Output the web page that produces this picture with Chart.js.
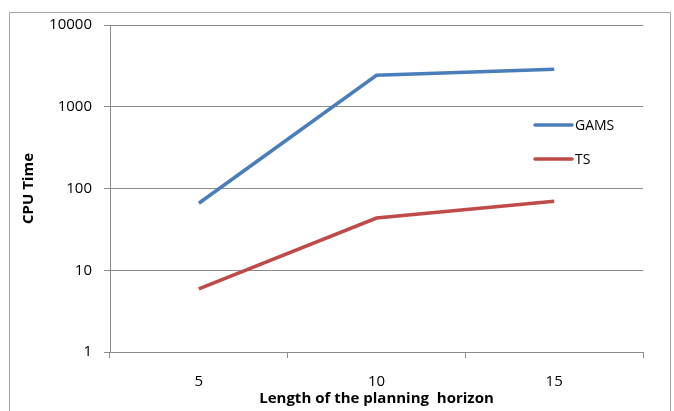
<!DOCTYPE html>
<html>
<head>
<meta charset="utf-8">
<script src="https://cdn.jsdelivr.net/npm/chart.js@4/dist/chart.umd.min.js"></script>
<style>
  html, body { margin: 0; padding: 0; background: #fff; }
  #wrap { position: relative; width: 674px; height: 411px; overflow: hidden; }
  #frame { position: absolute; left: 9px; top: 12px; width: 662px; height: 420px; border: 1px solid #a6a6a6; box-sizing: border-box; pointer-events: none; }
  canvas { position: absolute; left: 0; top: 0; }
</style>
</head>
<body>
<div id="wrap">
  <canvas id="c" width="674" height="411"></canvas>
  <div id="frame"></div>
</div>
<script>
// Planning horizon lengths and CPU times of the two solvers
const horizons = ['5', '10', '15'];
const gamsTimes = [66, 2430, 2880];
const tsTimes = [5.9, 43.5, 70];
const yTickValues = [1, 10, 100, 1000, 10000];

const FONT = "'Open Sans', 'Liberation Sans', sans-serif";
const GRID = '#8c8c8c';

// Legend drawn inside the plot area, to the right
const innerLegend = {
  id: 'innerLegend',
  afterDatasetsDraw(chart) {
    const ctx = chart.ctx;
    const rows = [125, 159];
    ctx.save();
    chart.data.datasets.forEach((ds, i) => {
      const y = rows[i];
      ctx.strokeStyle = ds.borderColor;
      ctx.lineWidth = ds.borderWidth;
      ctx.lineCap = 'round';
      ctx.beginPath();
      ctx.moveTo(535, y);
      ctx.lineTo(572, y);
      ctx.stroke();
      ctx.fillStyle = '#000';
      ctx.font = "14px " + FONT;
      ctx.textBaseline = 'middle';
      ctx.textAlign = 'left';
      ctx.fillText(ds.label, 575, y + 1);
    });
    ctx.restore();
  }
};

new Chart(document.getElementById('c'), {
  type: 'line',
  data: {
    labels: horizons,
    datasets: [
      { label: 'GAMS', data: gamsTimes, borderColor: '#4a7ebb', borderWidth: 3.5, pointRadius: 0, tension: 0 },
      { label: 'TS', data: tsTimes, borderColor: '#be4b48', borderWidth: 3.5, pointRadius: 0, tension: 0 }
    ]
  },
  options: {
    responsive: false,
    animation: false,
    events: [],
    layout: { padding: { top: 25, right: 31, left: 0, bottom: 0 } },
    plugins: { legend: { display: false }, tooltip: { enabled: false } },
    scales: {
      x: {
        type: 'category',
        offset: true,
        afterFit(scale) { scale.height = 59; },
        grid: { offset: true, drawOnChartArea: false, drawTicks: true, tickLength: 6, color: GRID },
        border: { display: true, color: GRID, width: 1 },
        ticks: { color: '#000', padding: 15, font: { family: FONT, size: 15 } },
        title: {
          display: true,
          text: 'Length of the planning  horizon',
          color: '#000',
          font: { family: FONT, size: 15, weight: 'bold' },
          padding: { top: 0, bottom: 3 }
        }
      },
      y: {
        type: 'logarithmic',
        min: 1,
        max: 10000,
        afterFit(scale) { scale.width = 110; },
        afterBuildTicks(scale) { scale.ticks = yTickValues.map(v => ({ value: v })); },
        grid: { color: GRID, lineWidth: 1, drawTicks: true, tickLength: 6 },
        border: { display: true, color: GRID, width: 1 },
        ticks: {
          color: '#000',
          padding: 12,
          font: { family: FONT, size: 15 },
          callback: v => String(v)
        },
        title: {
          display: true,
          text: 'CPU Time',
          color: '#000',
          font: { family: FONT, size: 15, weight: 'bold' },
          padding: { top: 20, bottom: 0 }
        }
      }
    }
  },
  plugins: [innerLegend]
});
</script>
</body>
</html>
